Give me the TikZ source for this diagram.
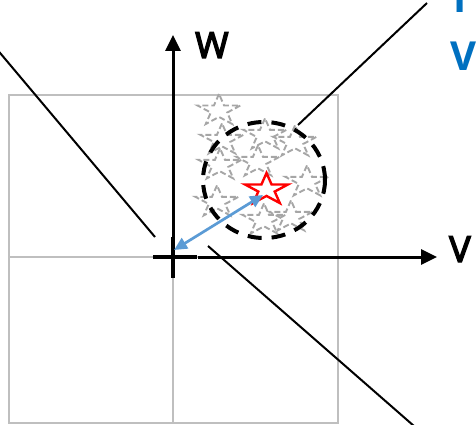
\documentclass[tikz,border=0pt]{standalone}
\usepackage{fontspec}
\setmainfont{Open Sans}
\newfontfamily\medfont[FakeBold=4]{Open Sans}
\usetikzlibrary{arrows.meta}
\definecolor{gridgray}{HTML}{BFBFBF}
\definecolor{stargray}{HTML}{A6A6A6}
\definecolor{pblue}{HTML}{0070C0}
\definecolor{abblue}{HTML}{5B9BD5}
\begin{document}
\begin{tikzpicture}[x=1pt,y=-1pt,
  gridline/.style={draw=gridgray,line width=2pt},
  axis/.style={line width=3pt,-{Triangle[length=16pt,width=15pt]}},
  crossbar/.style={line width=4.5pt},
  diag/.style={line width=2pt},
  gstar/.style={draw=stargray,line width=1.9pt,dash pattern=on 6pt off 3pt},
  rstar/.style={draw=red,fill=white,line width=2.4pt},
  ring/.style={line width=4pt,dash pattern=on 14pt off 10pt},
  vec/.style={draw=abblue,line width=2.7pt,{Triangle[length=13pt,width=12pt]}-{Triangle[length=13pt,width=12pt]}},
  lbl/.style={font=\medfont\fontsize{36}{40}\selectfont,inner sep=0pt},
  blbl/.style={font=\fontsize{40}{44}\selectfont\bfseries,text=pblue,inner sep=0pt},
  pics/pstar/.style={code={\path[pic actions,xscale=22.6,yscale=-16.6]
    (90:1)--(126:.382)--(162:1)--(198:.382)--(234:1)--(270:.382)--(306:1)--(342:.382)--(18:1)--(54:.382)--cycle;}}
]
\useasboundingbox (0,0) rectangle (476,425);
\clip (0,0) rectangle (476,425);
% grid
\draw[gridline] (9,95) rectangle (338,423);
\draw[gridline] (173,95) -- (173,423);
\draw[gridline] (9,257) -- (338,257);
% diagonals
\coordinate (d1a) at (-10,41);
\coordinate (d1b) at (155,237);
\coordinate (d2a) at (208,246);
\coordinate (d2b) at (430,440);
\coordinate (d3a) at (298,125);
\coordinate (d3b) at (427,3);
\draw[diag] (d1a) -- (d1b);
\draw[diag] (d2a) -- (d2b);
\draw[diag] (d3a) -- (d3b);
% gray stars
\pic[gstar] at (219,110.6) {pstar};
\pic[gstar] at (222,140) {pstar};
\pic[gstar] at (265,135) {pstar};
\pic[gstar] at (295,142) {pstar};
\pic[gstar] at (220,165) {pstar};
\pic[gstar] at (258,162) {pstar};
\pic[gstar] at (307,182) {pstar};
\pic[gstar] at (217,202) {pstar};
\pic[gstar] at (264,220) {pstar};
\pic[gstar] at (291,217) {pstar};
% ring
\coordinate (ringc) at (264,180);
\draw[ring] (ringc) ellipse [x radius=61pt, y radius=58pt];
% red star
\coordinate (rs) at (266.5,189.6);
\pic[rstar] at (rs) {pstar};
% axes
\coordinate (wbot) at (173,278);
\coordinate (wtop) at (173,35);
\coordinate (vleft) at (198,257);
\coordinate (vright) at (437,257);
\draw[axis] (wbot) -- (wtop);
\draw[axis] (vleft) -- (vright);
\coordinate (cl) at (153,257);
\coordinate (cr) at (197,257);
\coordinate (ct) at (173,237);
\draw[crossbar] (cl) -- (cr);
\draw[crossbar] (ct) -- (wbot);
% vector
\coordinate (vt) at (174,250);
\coordinate (vh) at (263,195);
\draw[vec] (vt) -- (vh);
% labels
\node[lbl,anchor=base west] (W) at (195,58) {W};
\node[lbl,anchor=base west] (V) at (449,262) {V};
\node[blbl,anchor=base west] (t1) at (448,13) {T};
\node[blbl,anchor=base west] (t2) at (450,71) {V};
\end{tikzpicture}
\end{document}
